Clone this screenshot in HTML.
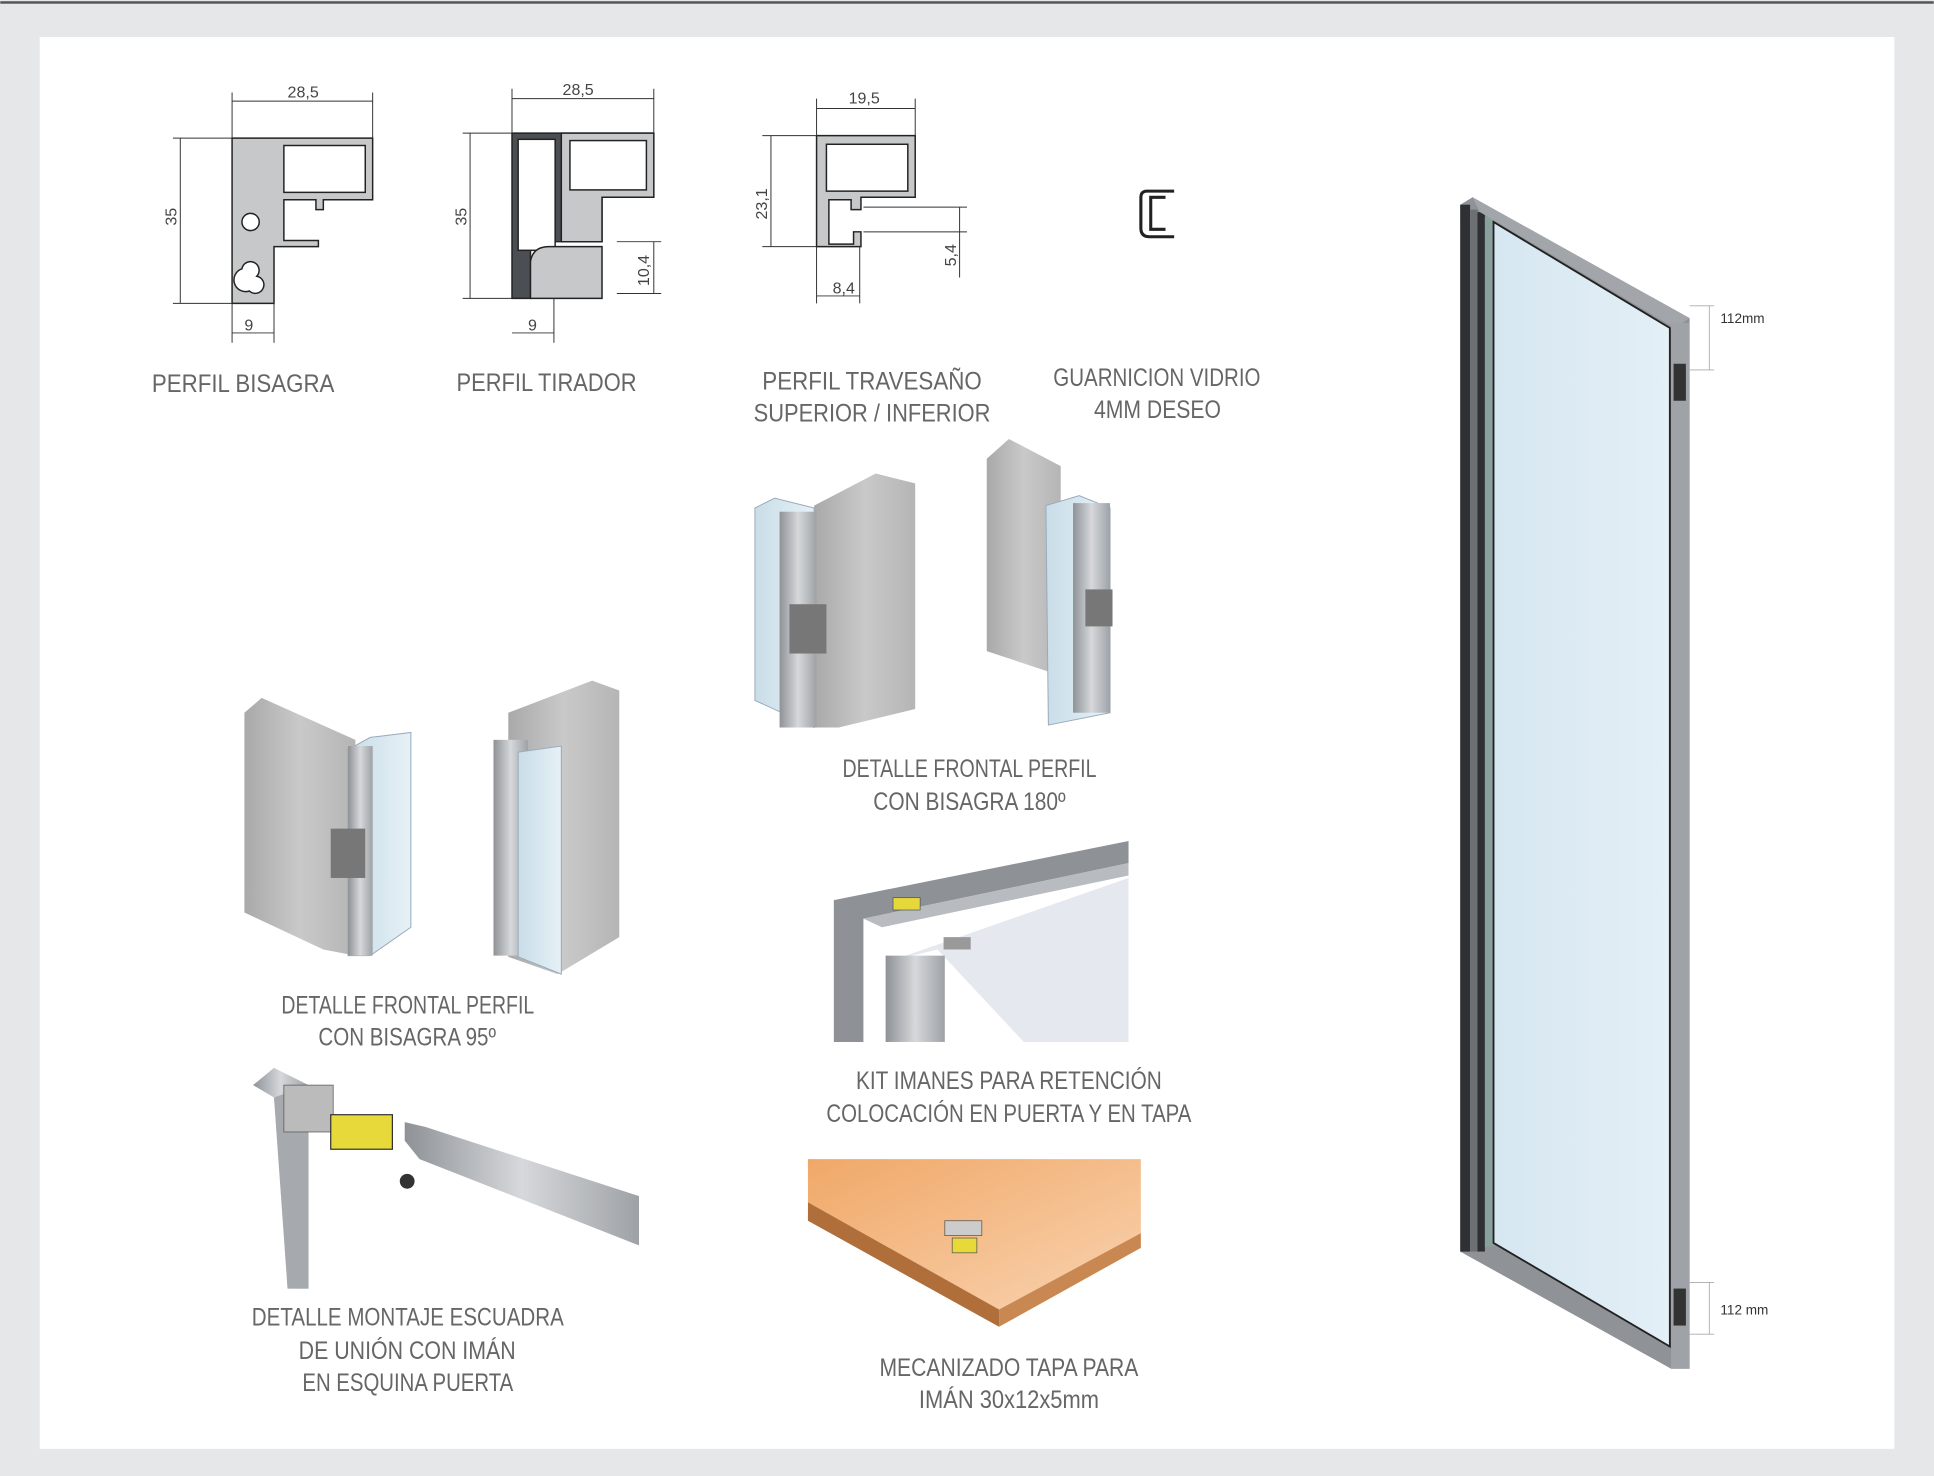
<!DOCTYPE html>
<html><head><meta charset="utf-8"><style>
html,body{margin:0;padding:0;background:#e6e7e8;}
svg{display:block;}
text{font-family:"Liberation Sans Narrow","Liberation Sans",sans-serif;fill:#666;}
.lbl{font-size:20px;}
.dim{font-size:13px;fill:#444;}
</style></head><body>
<svg width="1934" height="1476" viewBox="0 0 1568 1197" xmlns="http://www.w3.org/2000/svg">
<defs>
<linearGradient id="wood" x1="0" x2="1"><stop offset="0" stop-color="#a9a9a9"/><stop offset="0.5" stop-color="#c9c9c9"/><stop offset="1" stop-color="#b5b5b5"/></linearGradient>
<linearGradient id="glass" x1="0" x2="1"><stop offset="0" stop-color="#c9dde8"/><stop offset="1" stop-color="#e6f1f6"/></linearGradient>
<linearGradient id="dglass" x1="0" x2="1"><stop offset="0" stop-color="#d6e7f1"/><stop offset="1" stop-color="#e4eff6"/></linearGradient>
<linearGradient id="alu" x1="0" x2="1"><stop offset="0" stop-color="#8e9297"/><stop offset="0.5" stop-color="#d6d8db"/><stop offset="1" stop-color="#9ea2a6"/></linearGradient>
<linearGradient id="org" x1="0" y1="0" x2="1" y2="1"><stop offset="0" stop-color="#f0a868"/><stop offset="1" stop-color="#f9d3b0"/></linearGradient>
</defs>
<rect x="0" y="0" width="1568" height="1197" fill="#e6e7e8"/>
<rect x="0" y="1" width="1568" height="2" fill="#555"/>
<rect x="32" y="30" width="1504" height="1145" fill="#fff"/>

<!-- Profile bisagra -->
<g stroke="#222" stroke-width="1.2">
<path d="M188,112 H302 V162 H262 V170 H256 V162 H230 V195 H258 V200 H222 V246 H188 Z" fill="#c6c8ca"/>
<rect x="230" y="118" width="66" height="38" fill="#fff"/>
<circle cx="203" cy="180" r="7" fill="#fff"/>
<path d="M196,218 a7,7 0 1 1 12,6 a7,7 0 1 1 -6,12 a7,7 0 1 1 -6,-18Z" fill="#fff"/>
</g>
<g stroke="#333" stroke-width="0.8" fill="none">
<path d="M188,82 H302 M188,75 V112 M302,75 V112 M146,112 V246 M140,112 H188 M140,246 H188 M188,270 H222 M188,246 V278 M222,246 V278"/>
</g>
<text class="dim" x="233" y="79">28,5</text><text class="dim" x="198" y="268">9</text>
<text class="dim" x="143" y="183" transform="rotate(-90 143 183)">35</text>

<!-- Profile tirador -->
<g stroke="#222" stroke-width="1.2">
<path d="M415,108 H530 V160 H488 V196 H440 V200 H430 V242 H415 Z" fill="#4b4e52"/>
<rect x="420" y="113" width="30" height="90" fill="#fff"/>
<path d="M455,108 H530 V160 H488 V196 H455 Z" fill="#c6c8ca"/>
<rect x="462" y="114" width="62" height="40" fill="#fff"/>
<path d="M430,212 Q432,200 445,200 H488 V242 H430 Z" fill="#c6c8ca"/>
</g>
<g stroke="#333" stroke-width="0.8" fill="none">
<path d="M415,80 H530 M415,72 V108 M530,72 V108 M381,108 V242 M375,108 H415 M375,242 H415 M415,270 H449 M449,242 V278 M530,196 V238 M500,196 H536 M500,238 H536"/>
</g>
<text class="dim" x="456" y="77">28,5</text><text class="dim" x="428" y="268">9</text>
<text class="dim" x="378" y="183" transform="rotate(-90 378 183)">35</text>
<text class="dim" x="526" y="232" transform="rotate(-90 526 232)">10,4</text>

<!-- Profile travesaño -->
<g stroke="#222" stroke-width="1.2">
<path d="M662,110 H742 V160 H698 V170 H690 V162 H672 V198 H692 V188 H698 V200 H662 Z" fill="#c6c8ca"/>
<rect x="670" y="117" width="66" height="38" fill="#fff"/>
</g>
<g stroke="#333" stroke-width="0.8" fill="none">
<path d="M662,88 H742 M662,80 V110 M742,80 V110 M625,110 V200 M618,110 H662 M618,200 H662 M662,240 H697 M662,200 V246 M697,200 V246 M778,168 V225 M700,168 H784 M700,188 H784"/>
</g>
<text class="dim" x="688" y="84">19,5</text><text class="dim" x="675" y="238">8,4</text>
<text class="dim" x="622" y="178" transform="rotate(-90 622 178)">23,1</text>
<text class="dim" x="775" y="216" transform="rotate(-90 775 216)">5,4</text>

<!-- guarnicion -->
<path d="M952,155 H930 Q925,155 925,160 V185 Q925,192 932,192 H952 M945,160 H933 V186 H945" stroke="#222" stroke-width="2.5" fill="none"/>

<g class="lbl">
<text class="lbl" x="123" y="318" textLength="148" lengthAdjust="spacingAndGlyphs">PERFIL BISAGRA</text>
<text class="lbl" x="370" y="317" textLength="146" lengthAdjust="spacingAndGlyphs">PERFIL TIRADOR</text>
<text class="lbl" x="618" y="316" textLength="178" lengthAdjust="spacingAndGlyphs">PERFIL TRAVESAÑO</text>
<text class="lbl" x="611" y="342" textLength="192" lengthAdjust="spacingAndGlyphs">SUPERIOR / INFERIOR</text>
<text class="lbl" x="854" y="313" textLength="168" lengthAdjust="spacingAndGlyphs">GUARNICION VIDRIO</text>
<text class="lbl" x="887" y="339" textLength="103" lengthAdjust="spacingAndGlyphs">4MM DESEO</text>
<text class="lbl" x="683" y="630" textLength="206" lengthAdjust="spacingAndGlyphs">DETALLE FRONTAL PERFIL</text>
<text class="lbl" x="708" y="657" textLength="156" lengthAdjust="spacingAndGlyphs">CON BISAGRA 180º</text>
<text class="lbl" x="228" y="822" textLength="205" lengthAdjust="spacingAndGlyphs">DETALLE FRONTAL PERFIL</text>
<text class="lbl" x="258" y="848" textLength="144" lengthAdjust="spacingAndGlyphs">CON BISAGRA 95º</text>
<text class="lbl" x="694" y="883" textLength="248" lengthAdjust="spacingAndGlyphs">KIT IMANES PARA RETENCIÓN</text>
<text class="lbl" x="670" y="910" textLength="296" lengthAdjust="spacingAndGlyphs">COLOCACIÓN EN PUERTA Y EN TAPA</text>
<text class="lbl" x="204" y="1075" textLength="253" lengthAdjust="spacingAndGlyphs">DETALLE MONTAJE ESCUADRA</text>
<text class="lbl" x="242" y="1102" textLength="176" lengthAdjust="spacingAndGlyphs">DE UNIÓN CON IMÁN</text>
<text class="lbl" x="245" y="1128" textLength="171" lengthAdjust="spacingAndGlyphs">EN ESQUINA PUERTA</text>
<text class="lbl" x="713" y="1116" textLength="210" lengthAdjust="spacingAndGlyphs">MECANIZADO TAPA PARA</text>
<text class="lbl" x="745" y="1142" textLength="146" lengthAdjust="spacingAndGlyphs">IMÁN 30x12x5mm</text>
</g>

<!-- detalle 180 -->
<polygon points="660,410 710,384 742,392 742,575 680,590 660,590" fill="url(#wood)"/>
<polygon points="612,412 628,404 660,412 660,590 612,568" fill="url(#glass)" stroke="#9ab" stroke-width="0.8"/>
<rect x="632" y="415" width="30" height="175" fill="url(#alu)"/>
<rect x="640" y="490" width="30" height="40" fill="#777"/>
<polygon points="800,372 818,356 860,378 860,548 800,528" fill="url(#wood)"/>
<polygon points="848,410 875,402 900,412 900,578 850,588" fill="url(#glass)" stroke="#9ab" stroke-width="0.8"/>
<rect x="870" y="408" width="30" height="170" fill="url(#alu)"/>
<rect x="880" y="478" width="22" height="30" fill="#777"/>

<!-- detalle 95 -->
<polygon points="198,578 212,566 288,600 288,775 262,770 198,740" fill="url(#wood)"/>
<polygon points="282,608 300,598 333,594 333,752 300,775 282,775" fill="url(#glass)" stroke="#9ab" stroke-width="0.8"/>
<rect x="282" y="605" width="20" height="170" fill="url(#alu)"/>
<rect x="268" y="672" width="28" height="40" fill="#777"/>
<polygon points="412,578 480,552 502,560 502,760 452,790 412,776" fill="url(#wood)"/>
<rect x="400" y="600" width="28" height="175" fill="url(#alu)"/>
<polygon points="420,610 455,605 455,790 420,776" fill="url(#glass)" stroke="#9ab" stroke-width="0.8"/>

<!-- kit imanes -->
<polygon points="676,730 915,682 915,700 700,745 700,845 676,845" fill="#8e9297"/>
<polygon points="700,745 915,700 915,710 715,752" fill="#b8bcc0"/>
<rect x="724" y="728" width="22" height="10" fill="#e6d83a" stroke="#555" stroke-width="0.6"/>
<polygon points="720,780 915,712 915,845 830,845 760,770" fill="#e5e8ef"/>
<rect x="718" y="775" width="48" height="70" fill="url(#alu)"/>
<rect x="765" y="760" width="22" height="10" fill="#999"/>

<!-- escuadra -->
<polygon points="205,880 222,866 250,880 250,1045 233,1045 222,890" fill="url(#alu)"/>
<polygon points="222,890 250,880 250,1045 233,1045" fill="#a6aaae"/>
<rect x="230" y="880" width="40" height="38" fill="#bbb" stroke="#555" stroke-width="0.6"/>
<rect x="268" y="904" width="50" height="28" fill="#e8d93a" stroke="#333" stroke-width="1"/>
<polygon points="328,910 345,914 518,970 518,1010 340,940 328,925" fill="url(#alu)"/>
<circle cx="330" cy="958" r="6" fill="#333"/>

<!-- mecanizado -->
<polygon points="655,940 925,940 925,1000 810,1062 655,975" fill="url(#org)"/>
<polygon points="655,975 810,1062 810,1076 655,990" fill="#b06e3a"/>
<polygon points="810,1062 925,1000 925,1012 810,1076" fill="#c98752"/>
<rect x="766" y="990" width="30" height="12" fill="#ccc" stroke="#555" stroke-width="0.6"/>
<rect x="772" y="1004" width="20" height="12" fill="#e8d93a" stroke="#555" stroke-width="0.6"/>

<!-- door -->
<polygon points="1184,166 1194,160 1370,258 1370,1110 1355,1110 1184,1015" fill="#8f9398"/>
<rect x="1184" y="166" width="8" height="849" fill="#2e3033"/>
<rect x="1192" y="170" width="6" height="845" fill="#6c7075"/>
<rect x="1198" y="172" width="6" height="843" fill="#2e3033"/>
<rect x="1204" y="176" width="7" height="835" fill="#8aa09c"/>
<polygon points="1194,160 1370,258 1358,266 1200,172" fill="#a2a6aa"/>
<polygon points="1211,180 1354,266 1354,1092 1211,1008" fill="url(#dglass)" stroke="#222" stroke-width="1.5"/>
<rect x="1355" y="262" width="15" height="848" fill="#9fa3a8"/>
<rect x="1357" y="295" width="10" height="30" fill="#333"/>
<rect x="1357" y="1045" width="10" height="30" fill="#333"/>
<path d="M1370,248 H1390 M1370,300 H1390 M1386,248 V300 M1370,1040 H1390 M1370,1082 H1390 M1386,1040 V1082" stroke="#aaa" stroke-width="0.7"/>
<text x="1395" y="262" style="font-size:11px;fill:#333">112mm</text>
<text x="1395" y="1066" style="font-size:11px;fill:#333">112 mm</text>
</svg>
</body></html>
